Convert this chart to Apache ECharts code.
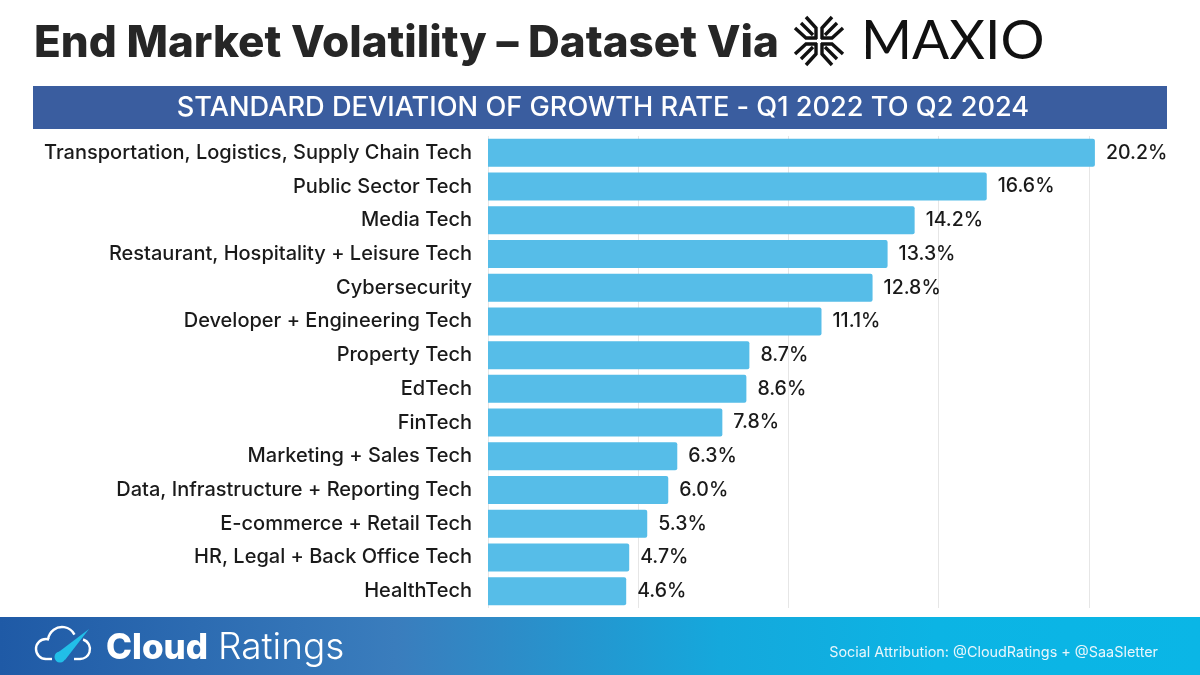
<!DOCTYPE html>
<html>
<head>
<meta charset="utf-8">
<title>End Market Volatility</title>
<script src="https://cdn.jsdelivr.net/npm/echarts@6/dist/echarts.min.js"></script>
<style>
html,body{margin:0;padding:0;background:#fff}
#chart{width:1200px;height:675px}
</style>
</head>
<body>
<div id="chart"></div>
<script>
var categories = ['Transportation, Logistics, Supply Chain Tech','Public Sector Tech','Media Tech','Restaurant, Hospitality + Leisure Tech','Cybersecurity','Developer + Engineering Tech','Property Tech','EdTech','FinTech','Marketing + Sales Tech','Data, Infrastructure + Reporting Tech','E-commerce + Retail Tech','HR, Legal + Back Office Tech','HealthTech'];
var values = [20.2,16.6,14.2,13.3,12.8,11.1,8.7,8.6,7.8,6.3,6.0,5.3,4.7,4.6];
var labelFont = 'Inter';

// logo mark, one set of strokes per quadrant
var flake = [];
[[1,1],[1,-1],[-1,1],[-1,-1]].forEach(function(d){
  var cx = 819, cy = 41;
  function pt(x,y){ return [cx+d[0]*x, cy+d[1]*y]; }
  flake.push({type:'polyline',shape:{points:[pt(3,2),pt(3,13),pt(13,24)]},style:{stroke:'#111',lineWidth:3.4,fill:null}});
  flake.push({type:'polyline',shape:{points:[pt(2,3),pt(13,3),pt(24,13)]},style:{stroke:'#111',lineWidth:3.4,fill:null}});
  flake.push({type:'line',shape:{x1:pt(6,6)[0],y1:pt(6,6)[1],x2:pt(18,18)[0],y2:pt(18,18)[1]},style:{stroke:'#111',lineWidth:3.4}});
});

var chart = echarts.init(document.getElementById('chart'));
chart.setOption({
  animation:false,
  backgroundColor:'#fff',
  title:{text:'End Market Volatility – Dataset Via',left:29,top:17,textStyle:{fontFamily:'Inter',fontSize:44,fontWeight:800,color:'#262626'}},
  grid:{left:488,top:136,width:676,height:472},
  xAxis:{type:'value',min:0,max:22.5,interval:5,
    axisLine:{show:false},axisTick:{show:false},axisLabel:{show:false},
    splitLine:{show:true,showMaxLine:false,lineStyle:{color:'#e6e6e6',width:1}}},
  yAxis:{type:'category',inverse:true,data:categories,
    axisLine:{show:false},axisTick:{show:false},
    axisLabel:{margin:16,fontFamily:labelFont,fontSize:20,fontWeight:500,color:'#1a1a1a'}},
  series:[{type:'bar',data:values,barWidth:28,
    itemStyle:{color:'#56bde8',borderRadius:[0,2,2,0]},
    label:{show:true,position:'right',distance:11,fontFamily:labelFont,fontSize:19.5,fontWeight:500,color:'#1a1a1a',
      formatter:function(p){return p.value.toFixed(1)+'%';}}}],
  graphic:[
    {type:'rect',z:-1,shape:{x:33,y:86,width:1134,height:43},style:{fill:'#3a5d9f'}},
    {type:'text',x:603,y:108,style:{text:'STANDARD DEVIATION OF GROWTH RATE - Q1 2022 TO Q2 2024',fill:'#fff',fontFamily:'Inter',fontSize:27.2,fontWeight:500,align:'center',verticalAlign:'middle'}},
    {type:'group',children:flake},
    {type:'text',x:861,y:41,style:{text:'MAXIO',fill:'#111',fontFamily:'Lato',fontSize:55,fontWeight:400,align:'left',verticalAlign:'middle'}},
    {type:'rect',z:-1,shape:{x:0,y:617,width:1200,height:58},style:{fill:new echarts.graphic.LinearGradient(0,0,1,0,[{offset:0,color:'#1f5aa6'},{offset:0.33,color:'#3a7dbd'},{offset:0.6,color:'#15a8dc'},{offset:0.78,color:'#0cb4e4'},{offset:1,color:'#0ab6e6'}])}},
    // cloud logo
    {type:'arc',shape:{cx:46,cy:649,r:10,startAngle:Math.PI*0.5,endAngle:Math.PI*1.6,clockwise:true},style:{fill:null,stroke:'#fff',lineWidth:2.4}},
    {type:'arc',shape:{cx:62,cy:641,r:14,startAngle:Math.PI*1.05,endAngle:Math.PI*1.85,clockwise:true},style:{fill:null,stroke:'#fff',lineWidth:2.4}},
    {type:'arc',shape:{cx:80,cy:649,r:10,startAngle:Math.PI*1.6,endAngle:Math.PI*0.5,clockwise:true},style:{fill:null,stroke:'#fff',lineWidth:2.4}},
    {type:'line',shape:{x1:46,y1:659,x2:52,y2:659},style:{stroke:'#fff',lineWidth:2.4}},
    {type:'line',shape:{x1:74,y1:659,x2:80,y2:659},style:{stroke:'#fff',lineWidth:2.4}},
    {type:'polygon',shape:{points:[[89,629],[65,660],[56,654]]},style:{fill:'#22bfe8'}},
    {type:'circle',shape:{cx:60,cy:657,r:5.5},style:{fill:'#22bfe8'}},
    {type:'text',x:106,y:648,style:{text:'Cloud',fill:'#fff',fontFamily:'Inter',fontSize:35,fontWeight:800,align:'left',verticalAlign:'middle'}},
    {type:'text',x:218,y:648,style:{text:'Ratings',fill:'#fff',fontFamily:'Inter',fontSize:37,fontWeight:300,align:'left',verticalAlign:'middle'}},
    {type:'text',x:1158,y:653,style:{text:'Social Attribution: @CloudRatings + @SaaSletter',fill:'#e8f6fc',fontFamily:'Inter',fontSize:14.4,align:'right',verticalAlign:'middle'}}
  ]
});
</script>
</body>
</html>
